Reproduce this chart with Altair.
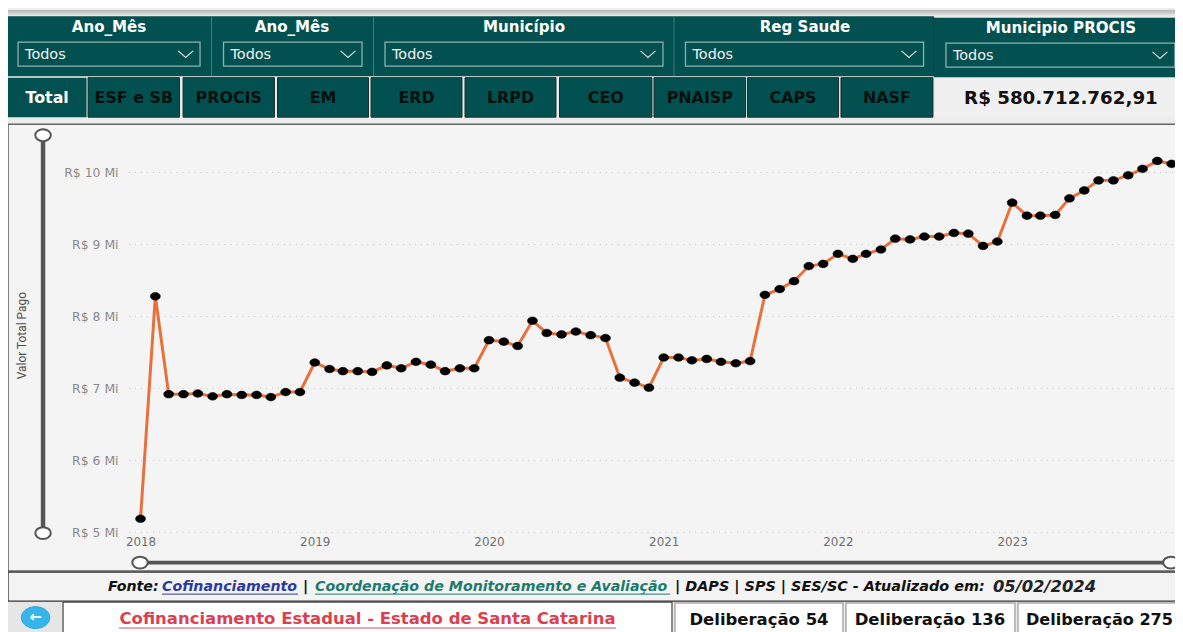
import altair as alt
import pandas as pd

# ---- chart values (R$ millions per month, Jan 2018 .. Dec 2023)
values_2018 = [5.19, 8.28, 6.92, 6.92, 6.93, 6.89, 6.92, 6.91, 6.91, 6.88, 6.95, 6.95]
values_2019 = [7.36, 7.27, 7.24, 7.24, 7.23, 7.32, 7.28, 7.37, 7.33, 7.24, 7.28, 7.28]
values_2020 = [7.67, 7.65, 7.59, 7.94, 7.77, 7.75, 7.79, 7.74, 7.70, 7.15, 7.08, 7.01]
values_2021 = [7.43, 7.43, 7.39, 7.41, 7.37, 7.35, 7.38, 8.30, 8.38, 8.49, 8.70, 8.73]
values_2022 = [8.87, 8.80, 8.87, 8.93, 9.08, 9.07, 9.11, 9.11, 9.16, 9.15, 8.98, 9.04]
values_2023 = [9.58, 9.40, 9.40, 9.41, 9.64, 9.75, 9.89, 9.89, 9.96, 10.05, 10.16, 10.12]
years = [2018, 2019, 2020, 2021, 2022, 2023]
y_ticks = [5, 6, 7, 8, 9, 10]

filter_titles = ["Ano_Mês", "Ano_Mês", "Município", "Reg Saude", "Municipio PROCIS"]
filter_value = "Todos"
buttons = ["Total", "ESF e SB", "PROCIS", "EM", "ERD", "LRPD", "CEO", "PNAISP", "CAPS", "NASF"]
total_label = "R$ 580.712.762,91"
page_title = "Cofinanciamento Estadual - Estado de Santa Catarina"
deliberacoes = ["Deliberação 54", "Deliberação 136", "Deliberação 275"]
axis_title = "Valor Total Pago"

all_values = values_2018 + values_2019 + values_2020 + values_2021 + values_2022 + values_2023
dates = [f"{y}-{m:02d}-01" for y in years for m in range(1, 13)]
df = pd.DataFrame({"mes": dates, "valor": all_values})
ticks_df = pd.DataFrame({"valor": y_ticks})
one = pd.DataFrame({"k": [0]})

TEAL = "#02504f"
W, H = 1175, 624
K = 0.9933  # the page is slightly wider than the window and gets scaled
ELL = "M-1.3,0A1.3,1,0,1,0,1.3,0A1.3,1,0,1,0,-1.3,0Z"
CHEV = "M-1,-0.45L0,0.45L1,-0.45"
DV = "DejaVu Sans"


def fx(x):
    return x / K - 8


def fy(y):
    return (y - 2) / K - 8


def box(x0, y0, x1, y1, fill, stroke=None, sw=1):
    kw = dict(fill=fill, opacity=1)
    if stroke:
        kw.update(stroke=stroke, strokeWidth=sw)
    return alt.Chart(one).mark_rect(**kw).encode(
        x=alt.value(fx(x0)), x2=alt.value(fx(x1)), y=alt.value(fy(y0)), y2=alt.value(fy(y1)))


def line(x0, y0, x1, y1, color, sw=1):
    return alt.Chart(one).mark_rule(color=color, strokeWidth=sw).encode(
        x=alt.value(fx(x0)), x2=alt.value(fx(x1)), y=alt.value(fy(y0)), y2=alt.value(fy(y1)))


def label(t, x, y, size, color, font=DV, weight="normal", align="center", style="normal"):
    return alt.Chart(one).mark_text(
        text=t, fontSize=size, color=color, font=font, fontWeight=weight, align=align,
        fontStyle=style, baseline="middle").encode(x=alt.value(fx(x)), y=alt.value(fy(y)))


def sym(shape, x, y, size, fill, stroke, sw):
    return alt.Chart(one).mark_point(
        shape=shape, size=size, fill=fill, stroke=stroke, strokeWidth=sw, opacity=1, filled=False,
        fillOpacity=1).encode(x=alt.value(fx(x)), y=alt.value(fy(y)))


layers = []
# top shadow strip
layers.append(alt.Chart(one).mark_rect(
    fill={"gradient": "linear", "x1": 0, "x2": 0, "y1": 0, "y2": 1,
          "stops": [{"offset": 0, "color": "#b4b4b4"}, {"offset": 1, "color": "#ececec"}]},
    opacity=1).encode(x=alt.value(0), x2=alt.value(W), y=alt.value(0), y2=alt.value(fy(16))))

# header filters
layers.append(box(7.5, 16, 934, 76, TEAL))
layers.append(box(934, 17.5, 1190, 77, TEAL))
for dx in [211.5, 373.5, 674]:
    layers.append(line(dx, 16, dx, 76, "#3f7d7b", 1))
layers.append(line(934, 17, 934, 76, "#0a4342", 1))
dropdowns = [(18, 200, 42, 66, 109, 27, 185.6), (223.5, 362, 42, 66, 292, 27, 348),
             (385, 663, 42, 66, 524, 27, 648), (685.5, 923.6, 42, 66, 805, 27, 909),
             (946, 1175, 43, 67, 1061, 28, 1160)]
for (x0, x1, y0, y1, tx, ty, cx), t in zip(dropdowns, filter_titles):
    layers.append(box(x0, y0, x1, y1, TEAL, "#8fb2b0", 1.3))
    layers.append(label(t, tx, ty, 15.2, "#ffffff", weight="bold"))
    layers.append(label(filter_value, x0 + 7, (y0 + y1) / 2 + 0.5, 14.5, "#f2f2f2", align="left"))
    layers.append(sym(CHEV, cx, (y0 + y1) / 2, 225, "transparent", "#d8e4e3", 1.2))

# buttons
spans = [(7.6, 86.5), (88, 179.5), (183, 274.4), (277.5, 368.5), (371, 462), (465, 556),
         (559.5, 652), (654, 745.6), (747.5, 838.6), (841, 933)]
for i, ((x0, x1), t) in enumerate(zip(spans, buttons)):
    layers.append(box(x0, 77.5, x1, 117, TEAL, None if i == 0 else "#1c2b2b", 1))
    layers.append(label(t, (x0 + x1) / 2, 97.5, 16, "#ffffff" if i == 0 else "#06100f", weight="bold"))
layers.append(box(936, 78, 1190, 117, "#f0f0f0"))
layers.append(label(total_label, 1061, 97.5, 18.4, "#111111", weight="bold"))

# main panel
layers.append(box(8, 124, 1190, 571, "#f4f4f4", "#666666", 1.5))

y_scale = alt.Scale(domain=[5, 10], range=[fy(532.3), fy(172.3)])
y_axis = alt.Axis(values=y_ticks, labelExpr="'R$ ' + datum.value + ' Mi'", title=axis_title, domain=False,
                  ticks=False, grid=False, labelFont=DV, labelFontSize=12.5, labelColor="#8a8a8a",
                  labelPadding=2, offset=-112.8, zindex=1, titleFont="Roboto",
                  titleFontSize=12, titleFontWeight="normal", titleColor="#4a4a4a", titleAngle=270,
                  titleX=-98.7, titleY=fy(335), titleAlign="center", titleBaseline="middle")
x_enc = alt.X("mes:T", scale=alt.Scale(domain=["2018-01-01", "2023-12-01"], range=[fx(140.5), fx(1171.7)], nice=False),
              axis=alt.Axis(format="%Y", tickCount={"interval": "year", "step": 1}, title=None, domain=False,
                            ticks=False, grid=False, labelFont=DV, labelFontSize=12, labelColor="#6f6f6f",
                            labelPadding=2, offset=-96.4, zindex=1, labelOverlap=False, labelFlush=False,
                            labelBound=False))
y_enc = alt.Y("valor:Q", scale=y_scale, axis=y_axis)

layers.append(alt.Chart(ticks_df).mark_rule(color="#c9c9c9", strokeWidth=1, strokeDash=[1, 5]).encode(
    y=y_enc, x=alt.value(fx(129)), x2=alt.value(W)))
layers.append(alt.Chart(df).mark_line(color="#e8703a", strokeWidth=3).encode(x=x_enc, y=y_enc))
layers.append(alt.Chart(df).mark_point(shape=ELL, size=60, fill="#000000", stroke="#000000", strokeWidth=0.5,
                                       opacity=1, fillOpacity=1).encode(x=x_enc, y=y_enc))

# range sliders
layers.append(line(43, 135, 43, 533, "#555555", 4.5))
layers.append(line(140, 562.5, 1171, 562.5, "#555555", 4))
for px, py in [(43, 135), (43, 533), (140, 562.5), (1171, 562.5)]:
    layers.append(sym(ELL, px, py, 144, "#ffffff", "#555555", 2))

# source line
layers.append(box(8, 572, 1190, 601, "#f3f3f3", "#333333", 1.2))
FS = 14.3
layers.append(label("Fonte:", 108, 586.5, FS, "#111111", DV, "bold", "left", "italic"))
layers.append(label("Cofinanciamento", 162, 586.5, FS, "#2b3a9e", DV, "bold", "left", "italic"))
layers.append(line(162, 594, 298, 594, "#2b3a9e", 1))
layers.append(label("|", 303, 586.5, FS, "#111111", DV, "bold", "left", "italic"))
layers.append(label("Coordenação de Monitoramento e Avaliação", 315, 586.5, FS, "#1e7a6a", DV, "bold", "left", "italic"))
layers.append(line(315, 594, 670, 594, "#1e7a6a", 1))
layers.append(label("| DAPS | SPS | SES/SC - Atualizado em:", 675, 586.5, 14.5, "#111111", DV, "bold", "left", "italic"))
layers.append(label("05/02/2024", 993, 586.5, 16.5, "#222222", DV, "bold", "left", "italic"))

# bottom row
layers.append(box(8, 602, 63, 640, "#e6e6e6"))
layers.append(sym(ELL, 35.5, 617.5, 484, "#35b5ea", "#2aa3d8", 1))
layers.append(label("←", 35.5, 617, 15, "#ffffff", weight="bold"))
layers.append(box(63, 602, 672, 640, "#ffffff", "#444444", 1.2))
layers.append(label(page_title, 367.5, 619, 16.6, "#dc3f50", weight="bold"))
layers.append(line(119, 628, 616, 628, "#e58a94", 1.5))
for (x0, x1), t in zip([(675, 843), (846, 1015), (1018, 1190)], deliberacoes):
    layers.append(box(x0, 603, x1, 640, "#ffffff", "#aaaaaa", 1.5))
layers.append(label(deliberacoes[0], 759, 620, 16.6, "#111111", weight="bold"))
layers.append(label(deliberacoes[1], 930, 620, 16.6, "#111111", weight="bold"))
layers.append(label(deliberacoes[2], 1026, 620, 16.2, "#111111", weight="bold", align="left"))

chart = alt.layer(*layers).properties(
    width=W, height=H, padding=0, background="#ececec",
    autosize=alt.AutoSizeParams(type="none"),
).configure_view(stroke=None)

chart.save("out.html", embed_options={"renderer": "svg", "actions": False})
